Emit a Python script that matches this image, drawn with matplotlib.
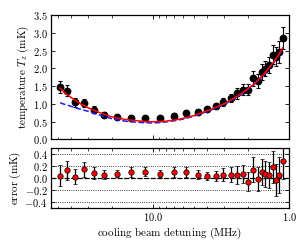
import matplotlib
matplotlib.use("Agg")
import matplotlib.pyplot as plt
from matplotlib.ticker import FixedLocator, FuncFormatter, NullFormatter

plt.rcParams['mathtext.fontset'] = 'cm'
plt.rcParams['font.family'] = ['DejaVu Serif']

# measured data
detuning = [48.0, 42.7, 37.5, 32.3, 27.2, 22.7, 18.4, 14.5, 11.4,
            8.84, 7.03, 5.69, 4.68, 3.97, 3.42, 3.03,
            2.68, 2.40, 2.19, 2.00, 1.84, 1.70, 1.59, 1.49, 1.40, 1.31, 1.25, 1.18, 1.11]
temperature = [1.48, 1.37, 1.04, 1.02, 0.83, 0.69, 0.62, 0.61, 0.59,
               0.59, 0.66, 0.74, 0.77, 0.85, 0.93, 1.05,
               1.16, 1.29, 1.40, 1.40, 1.72, 1.65, 1.90, 1.99, 2.09, 2.38, 2.32, 2.46, 2.86]
temp_err = [0.17, 0.16, 0.12, 0.12, 0.10, 0.07, 0.06, 0.08, 0.075,
            0.055, 0.085, 0.09, 0.078, 0.07, 0.084, 0.11,
            0.12, 0.15, 0.15, 0.16, 0.21, 0.20, 0.22, 0.22, 0.22, 0.27, 0.27, 0.30, 0.31]
residual = [0.037, 0.13, 0.02, 0.14, 0.087, 0.053, 0.07, 0.098, 0.098,
            0.07, 0.092, 0.098, 0.053, 0.031, 0.031, 0.048,
            0.053, 0.053, 0.059, -0.064, 0.132, -0.025, 0.092, 0.062, 0.042, 0.187, -0.036, 0.042, 0.285]

# fit curves
fit_detuning = [48, 45, 40, 35, 30, 25, 20, 16, 13, 11, 10, 9, 8, 7, 6, 5, 4, 3.5, 3,
                2.5, 2.2, 2.0, 1.8, 1.6, 1.5, 1.4, 1.3, 1.2, 1.11]
fit_full = [1.44, 1.33, 1.18, 1.03, 0.89, 0.76, 0.63, 0.56, 0.52, 0.50, 0.495, 0.50, 0.51,
            0.54, 0.59, 0.67, 0.80, 0.89, 1.00, 1.17, 1.31, 1.43, 1.56, 1.76, 1.87, 2.02,
            2.17, 2.36, 2.58]
fit_doppler = [1.03, 0.99, 0.93, 0.86, 0.79, 0.69, 0.58, 0.51, 0.48, 0.465, 0.46, 0.47, 0.49,
               0.52, 0.57, 0.65, 0.78, 0.87, 0.98, 1.15, 1.29, 1.41, 1.54, 1.74, 1.85, 2.00,
               2.15, 2.34, 2.56]

main_yticks = [0.0, 0.5, 1.0, 1.5, 2.0, 2.5, 3.0, 3.5]
err_yticks = [-0.4, -0.2, 0.0, 0.2, 0.4]
x_major = [10.0, 1.0]
x_minor = [50, 40, 30, 20, 9, 8, 7, 6, 5, 4, 3, 2]

fig = plt.figure(figsize=(3.06, 2.46), dpi=100)
ax1 = fig.add_axes([51/306, 1-139.3/246, 238/306, 124.3/246])
ax2 = fig.add_axes([51/306, 1-207.6/246, 238/306, 59.6/246], sharex=ax1)

fs = 7.5

ax1.errorbar(detuning, temperature, yerr=temp_err, fmt='o', color='black', ms=4.6,
             elinewidth=0.8, capsize=1.6, capthick=0.8, zorder=2)
ax1.plot(fit_detuning, fit_doppler, '--', color='#1a1aff', lw=1.1, zorder=3)
ax1.plot(fit_detuning, fit_full, '-', color='red', lw=1.1, zorder=4)

ax2.axhline(0.0, color='black', ls='--', lw=0.9, zorder=1)
for v in err_yticks:
    ax2.axhline(v, color='black', ls=':', lw=0.6, zorder=0)
ax2.errorbar(detuning, residual, yerr=temp_err, fmt='o', color='black', mfc='red', mec='black',
             mew=0.5, ms=3.9, elinewidth=0.9, capsize=1.6, capthick=0.8, zorder=3)

ax1.set_xscale('log')
ax1.set_xlim(56, 1.0)
ax1.set_ylim(0, 3.5)
ax2.set_ylim(-0.5, 0.5)

ax1.xaxis.set_major_locator(FixedLocator(x_major))
ax1.xaxis.set_minor_locator(FixedLocator(x_minor))
ax2.xaxis.set_major_formatter(FuncFormatter(lambda v, p: r'$%.1f$' % v))
ax2.xaxis.set_minor_formatter(NullFormatter())
plt.setp(ax1.get_xticklabels(), visible=False)
ax1.yaxis.set_major_locator(FixedLocator(main_yticks))
ax1.yaxis.set_major_formatter(FuncFormatter(lambda v, p: r'$%.1f$' % v))
ax2.yaxis.set_major_locator(FixedLocator(err_yticks))
ax2.yaxis.set_major_formatter(FuncFormatter(lambda v, p: r'$%.1f$' % v))

for ax in (ax1, ax2):
    ax.tick_params(which='both', direction='in', top=True, right=True, labelsize=fs, pad=2.5)
    ax.tick_params(which='major', length=3.2, width=0.6)
    ax.tick_params(which='minor', length=1.8, width=0.5)
    for s in ax.spines.values():
        s.set_linewidth(0.9)

ax1.set_ylabel(r'$\mathrm{temperature}\ T_z\ \mathrm{(mK)}$', fontsize=8, labelpad=1)
ax2.set_ylabel(r'$\mathrm{error\ (mK)}$', fontsize=8, labelpad=1)
ax2.set_xlabel(r'$\mathrm{cooling\ beam\ detuning\ (MHz)}$', fontsize=8, labelpad=2)
fig.align_ylabels([ax1, ax2])

fig.savefig('out.png', dpi=100)
